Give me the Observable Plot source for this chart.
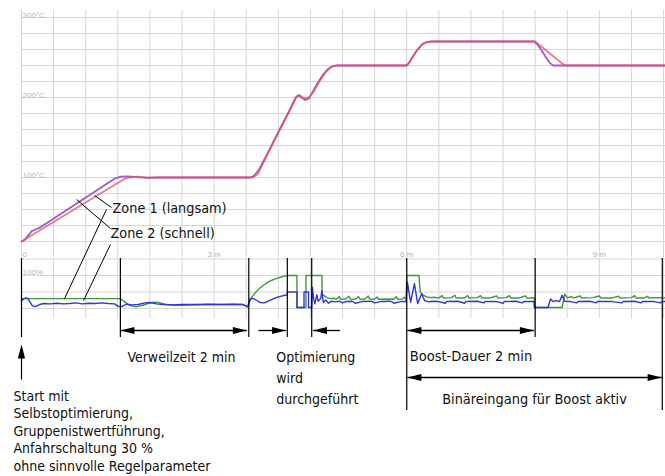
<!DOCTYPE html>
<html><head><meta charset="utf-8">
<script src="https://cdn.jsdelivr.net/npm/d3@7"></script>
<script src="https://cdn.jsdelivr.net/npm/@observablehq/plot@0.6"></script>
<style>
html,body{margin:0;padding:0;background:#fff;}
#wrap{position:relative;width:665px;height:476px;overflow:hidden;background:#fff;}
</style></head><body><div id="wrap"></div>
<script>
// ---------------- data ----------------
const timeGrid = [0,0.5,1,1.5,2,2.5,3,3.5,4,4.5,5,5.5,6,6.5,7,7.5,8,8.5,9,9.5,10];
const tempGrid = [20,40,60,80,100,120,140,160,180,200,220,240,260,280,300];
const tempLabels = [100,200,300];
const outGrid = [0,50,100,150];
const timeLabels = [{t:0,label:"0"},{t:3,label:"3 m"},{t:6,label:"6 m"},{t:9,label:"9 m"}];

// Zone 1 (langsam) – temperature, °C
const zone1Temp = [[0,20],[1.6,98],[1.68,100],[1.8,101],[2.0,99.8],[2.2,100],[3.6,100],[3.68,104],[3.8,124],[4.28,200],[4.33,203],[4.4,199],[4.47,200],[4.55,207],[4.64,220],[4.74,232],[4.82,238],[4.92,240],[6.0,240],[6.06,246],[6.15,258],[6.25,267],[6.32,269.5],[6.4,270],[8.0,270],[8.46,240],[10.03,240]];
// Zone 2 (schnell) – temperature, °C
const zone2Temp = [[0,20],[0.05,22],[0.1,27],[0.16,33],[0.22,35],[0.3,38],[1.46,99],[1.55,101],[1.65,101.5],[1.8,100.5],[1.95,99.5],[2.1,100],[3.56,100],[3.62,102],[3.7,110],[3.8,125],[4.0,157],[4.15,180],[4.27,200],[4.31,203],[4.36,200],[4.42,197],[4.48,199],[4.54,208],[4.62,219],[4.7,229],[4.78,236],[4.84,239],[4.9,240],[6.0,240],[6.04,244],[6.1,252],[6.17,260],[6.23,266],[6.3,269],[6.38,270],[7.98,270],[8.04,266],[8.1,259],[8.17,250],[8.23,243],[8.28,240],[10.03,240]];
// Zone 1 – output, %
const zone1Out = [[0,30],[1.54,30],[1.6,21],[1.68,10],[1.78,5],[1.88,9],[1.98,16],[2.06,19],[2.14,18],[2.24,13],[2.36,10],[2.5,10],[2.7,11],[2.9,12],[3.1,12],[3.3,12],[3.45,12],[3.53,5],[3.57,30],[3.63,45],[3.7,60],[3.78,72],[3.86,82],[3.94,89],[4.02,94],[4.1,98],[4.16,100],[4.29,100],[4.29,3],[4.43,3],[4.43,100],[4.68,100],[4.68,45],[4.72,38],[4.76,33],[4.8,30],[4.86,31],[4.9,28],[4.95,36],[4.97,28],[5.05,29],[5.1,37],[5.12,29],[5.2,28],[5.25,36],[5.27,28],[5.35,29],[5.4,38],[5.42,29],[5.5,28],[5.54,35],[5.56,28],[5.7,29],[5.8,28],[5.84,36],[5.86,28],[5.93,29],[5.96,34],[5.99,28],[6.0,100],[6.19,100],[6.21,50],[6.25,42],[6.3,36],[6.36,33],[6.42,34],[6.5,32],[6.55,39],[6.57,32],[6.7,33],[6.75,40],[6.77,32],[6.9,32],[6.95,39],[6.97,32],[7.1,33],[7.15,39],[7.17,32],[7.3,32],[7.4,38],[7.42,32],[7.55,33],[7.6,39],[7.62,32],[7.75,32],[7.85,38],[7.87,32],[7.99,32],[7.99,3],[8.42,3],[8.46,44],[8.5,32],[8.56,36],[8.6,32],[8.7,38],[8.72,32],[8.9,33],[9.0,38],[9.02,32],[9.2,32],[9.3,37],[9.32,32],[9.5,33],[9.55,39],[9.57,32],[9.7,32],[9.75,37],[9.77,32],[9.9,33],[10.03,32]];
// Zone 2 – output, %
const zone2Out = [[0,24],[0.04,30],[0.08,33],[0.12,24],[0.17,8],[0.22,6],[0.28,12],[0.35,15],[0.45,14],[0.55,16],[0.65,14],[0.75,15],[0.85,17],[0.95,14],[1.05,16],[1.15,15],[1.25,17],[1.35,15],[1.45,14],[1.5,7],[1.56,6],[1.64,13],[1.72,11],[1.82,12],[1.92,17],[2.0,18],[2.1,14],[2.2,12],[2.35,11],[2.5,12],[2.7,12],[2.9,13],[3.1,12],[3.3,13],[3.45,12],[3.52,5],[3.56,28],[3.6,31],[3.66,25],[3.72,18],[3.78,17],[3.86,24],[3.94,31],[4.02,36],[4.1,40],[4.14,41],[4.14,50],[4.29,50],[4.29,3],[4.4,3],[4.4,50],[4.47,50],[4.47,3],[4.52,3],[4.53,64],[4.55,30],[4.57,14],[4.6,42],[4.62,22],[4.66,30],[4.68,55],[4.7,18],[4.74,26],[4.78,16],[4.82,22],[4.88,20],[4.95,22],[5.0,17],[5.05,21],[5.15,22],[5.2,16],[5.3,21],[5.45,22],[5.5,17],[5.6,21],[5.75,22],[5.8,16],[5.9,21],[5.99,21],[6.01,80],[6.06,19],[6.12,75],[6.17,15],[6.23,44],[6.28,24],[6.34,20],[6.4,22],[6.5,21],[6.6,16],[6.62,21],[6.8,22],[6.9,16],[6.92,21],[7.1,22],[7.2,17],[7.22,21],[7.4,21],[7.5,16],[7.52,21],[7.7,22],[7.8,17],[7.82,21],[7.98,21],[7.99,3],[8.2,3],[8.24,29],[8.28,21],[8.33,24],[8.38,21],[8.42,40],[8.46,22],[8.55,21],[8.65,17],[8.67,21],[8.85,22],[8.95,17],[8.97,21],[9.2,21],[9.35,17],[9.37,21],[9.55,22],[9.65,17],[9.67,21],[9.85,21],[9.95,17],[9.97,21],[10.03,21]];

// event times, minutes
const events = [
  {name:"start", t:0},
  {name:"dwellStart", t:1.54},
  {name:"dwellEnd", t:3.54},
  {name:"optA", t:4.14},
  {name:"optB", t:4.52},
  {name:"boostStart", t:6.0},
  {name:"boostEnd", t:8.0},
  {name:"binEnd", t:9.98}
];
const zoneNames = ["Zone 1 (langsam)", "Zone 2 (schnell)"];
const startText = ["Start mit","Selbstoptimierung,","Gruppenistwertführung,","Anfahrschaltung 30 %","ohne sinnvolle Regelparameter"];
const optText = ["Optimierung","wird","durchgeführt"];
const dwellText = "Verweilzeit 2 min";
const boostText = "Boost-Dauer 2 min";
const binText = "Binäreingang für Boost aktiv";

// ---------------- drawing ----------------
const ev = Object.fromEntries(events.map(e => [e.name, e.t]));
const W = 665, XD = [0, 10.03];
const GRID = "#d6d6d6", LBL = "#b4b4b4";
const RED = "#e8505a", PURPLE = "#9b5ccc", GREEN = "#3c9a3c", BLUE = "#3434d8";
const FONT = '"Liberation Sans Narrow","Arial Narrow","DejaVu Sans Condensed","Nimbus Sans Narrow","Roboto Condensed","Liberation Sans",sans-serif';
const wrap = document.getElementById("wrap");
const xy = {x: d => d[0], y: d => d[1]};

const topPlot = Plot.plot({
  width: W, height: 258, marginTop: 10, marginBottom: 1, marginLeft: 21, marginRight: 0,
  x: {domain: XD, axis: null}, y: {domain: [0, 308.75], axis: null},
  style: {position: "absolute", left: "0px", top: "0px", background: "none", overflow: "visible"},
  marks: [
    Plot.ruleX(timeGrid, {x: d => d, stroke: GRID}),
    Plot.ruleY(tempGrid, {y: d => d, stroke: GRID}),
    Plot.text(tempLabels, {x: 0, y: d => d, text: d => d + "°C", dx: 1, dy: -2, textAnchor: "start", fill: LBL, fontSize: 8, fontFamily: "Liberation Sans, sans-serif"}),
    Plot.line(zone2Temp, {...xy, stroke: PURPLE, strokeWidth: 1.8}),
    Plot.line(zone1Temp, {...xy, stroke: RED, strokeWidth: 1.8, strokeOpacity: 0.75})
  ]
});
wrap.appendChild(topPlot);

const LOW_TOP = 245;
const lowPlot = Plot.plot({
  width: W, height: 75, marginTop: 13, marginBottom: 2, marginLeft: 21, marginRight: 0,
  x: {domain: XD, axis: null}, y: {domain: [-30.3, 151.5], axis: null},
  style: {position: "absolute", left: "0px", top: LOW_TOP + "px", background: "none", overflow: "visible"},
  marks: [
    Plot.ruleX(timeGrid, {x: d => d, stroke: GRID}),
    Plot.ruleY(outGrid, {y: d => d, stroke: GRID}),
    Plot.text(timeLabels.filter(d => d.t === 0), {x: "t", y: 150, text: "label", dx: 1, dy: -5, textAnchor: "start", fill: LBL, fontSize: 8, fontFamily: "Liberation Sans, sans-serif"}),
    Plot.text(timeLabels.filter(d => d.t > 0), {x: "t", y: 150, text: "label", dy: -5, fill: LBL, fontSize: 8, fontFamily: "Liberation Sans, sans-serif"}),
    Plot.text([100], {x: 0, y: d => d, text: d => d + "%", dx: 1, dy: -3, textAnchor: "start", fill: LBL, fontSize: 8, fontFamily: "Liberation Sans, sans-serif"}),
    Plot.line(zone1Out, {...xy, stroke: GREEN, strokeWidth: 1.4}),
    Plot.line(zone2Out, {...xy, stroke: BLUE, strokeWidth: 1.4})
  ]
});
wrap.appendChild(lowPlot);

const topY = v => topPlot.scale("y").apply(v);
const lowY = v => LOW_TOP + lowPlot.scale("y").apply(v);

// annotation layout (pixels in y)
const LINE_TOP = 258, SHORT_BOTTOM = 337, LONG_BOTTOM = 410;
const longNames = ["boostStart", "binEnd"];
const ROW1 = 330, ROW2 = 377;
const arrows = [
  {x1: ev.dwellStart, x2: ev.dwellEnd - 0.03, y: ROW1, both: true},
  {x1: 3.69, x2: ev.optA - 0.02, y: ROW1, both: false},
  {x1: 4.96, x2: ev.optB + 0.02, y: ROW1, both: false},
  {x1: ev.boostStart + 0.01, x2: ev.boostEnd - 0.02, y: ROW1, both: true},
  {x1: ev.boostStart + 0.01, x2: ev.binEnd - 0.01, y: ROW2, both: true}
];
const heads = [];
for (const a of arrows) {
  heads.push({x: a.x2, y: a.y, r: a.x2 > a.x1 ? 0 : 180});
  if (a.both) heads.push({x: a.x1, y: a.y, r: a.x2 > a.x1 ? 180 : 0});
}
heads.push({x: ev.start, y: 344, r: -90});
const headSymbol = {draw(ctx) { ctx.moveTo(0, 0); ctx.lineTo(-14, -3.6); ctx.lineTo(-14, 3.6); ctx.closePath(); }};

const leaders = [
  {x1: 1.402, y1: 207, x2: 1.137, y2: topY(77.5)},
  {x1: 1.324, y1: 209, x2: 0.67, y2: lowY(30)},
  {x1: 1.386, y1: 228, x2: 0.857, y2: topY(72.5)},
  {x1: 1.386, y1: 244, x2: 0.966, y2: lowY(24)}
];

const txt = {fill: "#111", fontFamily: FONT, fontSize: 14, lineAnchor: "bottom", textAnchor: "start"};
const overlay = Plot.plot({
  width: W, height: 476, marginTop: 0, marginBottom: 0, marginLeft: 21, marginRight: 0,
  x: {domain: XD, axis: null}, y: {type: "identity", axis: null},
  style: {position: "absolute", left: "0px", top: "0px", background: "none", overflow: "visible"},
  marks: [
    Plot.ruleX(events, {x: "t", y1: LINE_TOP, y2: d => longNames.includes(d.name) ? LONG_BOTTOM : SHORT_BOTTOM, stroke: "#000", strokeWidth: 1.2}),
    Plot.link(arrows, {x1: "x1", x2: "x2", y1: "y", y2: "y", stroke: "#000", strokeWidth: 1.3}),
    Plot.link([{t: ev.start}], {x1: "t", x2: "t", y1: 379, y2: 346, stroke: "#000", strokeWidth: 1.2}),
    Plot.dot(heads, {x: "x", y: "y", rotate: "r", symbol: headSymbol, fill: "#000", stroke: "none"}),
    Plot.link(leaders, {x1: "x1", y1: "y1", x2: "x2", y2: "y2", stroke: "#000", strokeWidth: 1}),
    Plot.text([zoneNames[0]], {...txt, x: 1.418, y: 212, text: d => d, fontSize: 14.3}),
    Plot.text([zoneNames[1]], {...txt, x: 1.386, y: 237, text: d => d, fontSize: 14.3}),
    Plot.text([dwellText], {...txt, x: ev.dwellStart, dx: 7, y: 361, text: d => d}),
    Plot.text([optText.join("\n")], {...txt, x: ev.optA, dx: -11, y: 403, lineHeight: 1.5, text: d => d}),
    Plot.text([boostText], {...txt, x: ev.boostStart, dx: 3, y: 360, text: d => d, fontSize: 14.5}),
    Plot.text([binText], {...txt, x: (ev.boostStart + ev.binEnd) / 2, y: 403, textAnchor: "middle", text: d => d, fontSize: 14.4}),
    Plot.text([startText.join("\n")], {...txt, x: ev.start, dx: -8, y: 470, lineHeight: 1.25, text: d => d})
  ]
});
wrap.appendChild(overlay);
</script></body></html>
